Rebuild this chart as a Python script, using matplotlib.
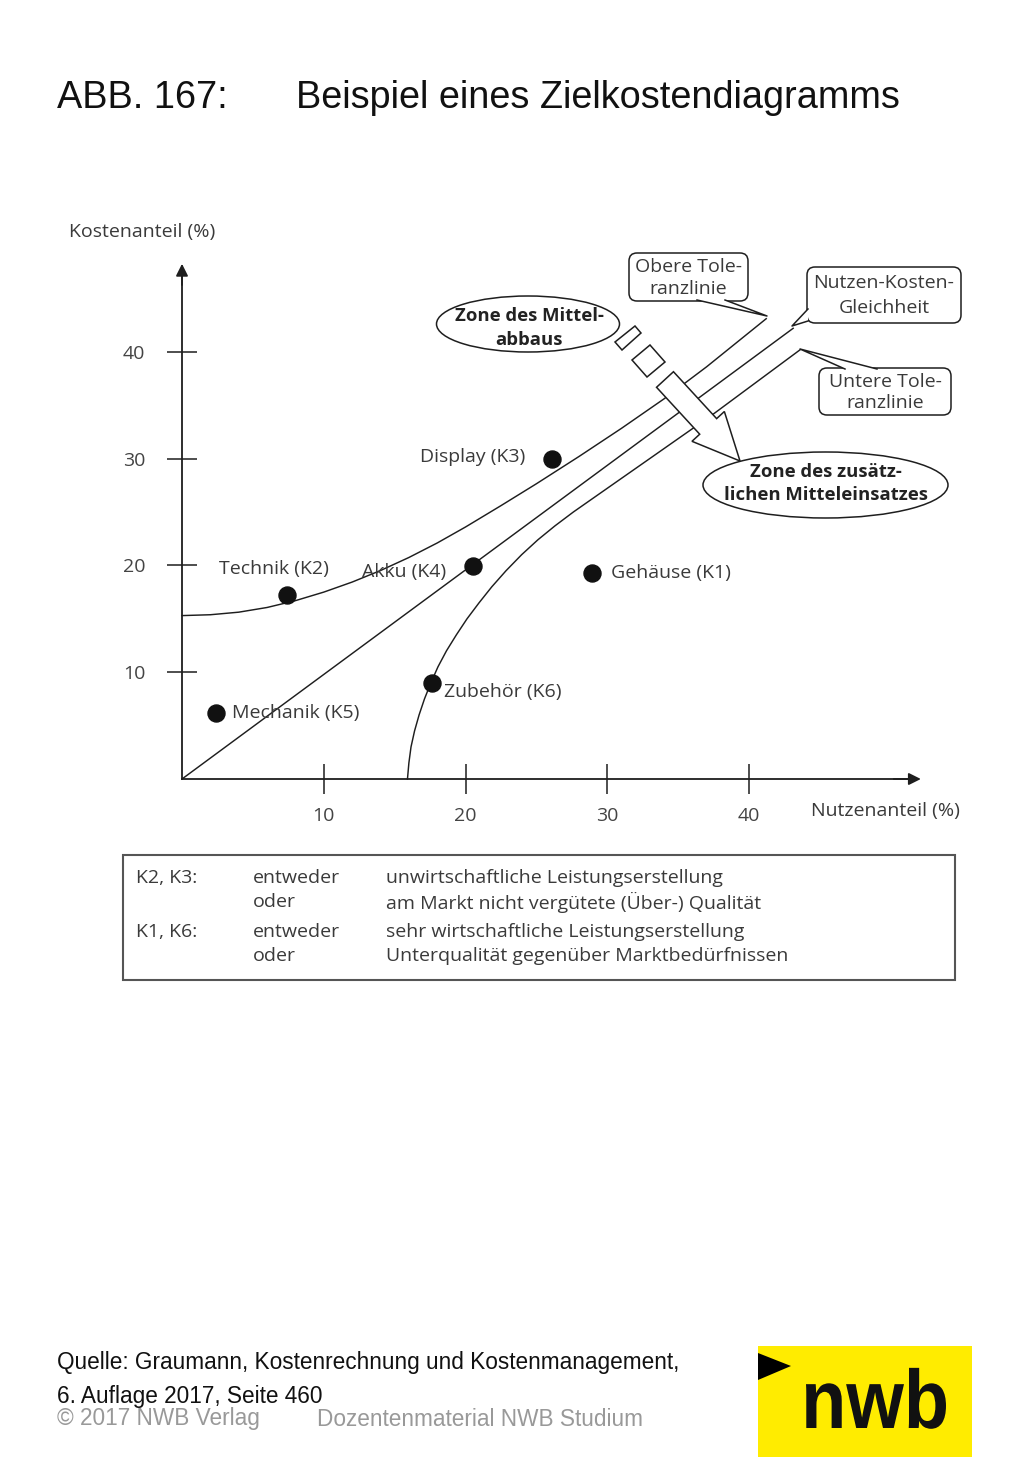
import matplotlib
matplotlib.use("Agg")
import matplotlib.pyplot as plt
from matplotlib.patches import Ellipse, FancyBboxPatch, Polygon, Rectangle, FancyArrow, PathPatch
from matplotlib.textpath import TextPath
from matplotlib.font_manager import FontProperties
from matplotlib.transforms import Affine2D

# --- data (Nutzenanteil %, Kostenanteil %) ---
comp_names = ["Gehäuse (K1)", "Technik (K2)", "Display (K3)", "Akku (K4)", "Mechanik (K5)", "Zubehör (K6)"]
nutzen = [28.9, 7.4, 26.1, 20.5, 2.4, 17.6]
kosten = [19.3, 17.2, 30.0, 19.9, 6.2, 9.0]
# label offsets in pixels (dx, dy) and alignment
label_off = [(19, 0), (-68, 26), (-27, 2), (-27, -6), (16, 0), (12, -9)]
label_ha = ["left", "left", "right", "right", "left", "left"]

# Nutzen-Kosten-Gleichheit
nk_x = [0, 43.1]
nk_y = [0, 42.2]
# obere Toleranzlinie
upper_x = [0, 2, 4, 6, 8, 10, 12, 14, 16, 18, 20, 22.5, 25, 28, 31, 34, 37, 41.2]
upper_y = [15.3, 15.38, 15.62, 16.06, 16.7, 17.5, 18.44, 19.52, 20.74, 22.1, 23.6, 25.6, 27.65, 30.2, 32.84, 35.6, 38.6, 43.1]
# untere Toleranzlinie
lower_x = [15.9, 16.0, 16.15, 16.4, 16.72, 17.1, 17.55, 18.05, 18.65, 19.35, 20.1, 20.95, 21.85, 22.85,
           23.95, 25.1, 26.3, 27.6, 29.0, 33.2, 37.5, 43.6]
lower_y = [0, 1.5, 3.0, 4.5, 6.0, 7.5, 9.0, 10.5, 12.0, 13.5, 15.0, 16.5, 18.0, 19.5,
           21.0, 22.4, 23.7, 25.0, 26.3, 30.2, 34.2, 40.2]

x_ticks = [10, 20, 30, 40]
y_ticks = [10, 20, 30, 40]

legend_keys = ["K2, K3:", "K1, K6:"]
legend_mid = ["entweder", "oder"]
legend_text = [["unwirtschaftliche Leistungserstellung", "am Markt nicht vergütete (Über-) Qualität"],
               ["sehr wirtschaftliche Leistungserstellung", "Unterqualität gegenüber Marktbedürfnissen"]]

FONT = ["Open Sans", "DejaVu Sans"]
TXT = "#3a3a3a"
LN = "#1e1e1e"
FS = 14

W, H = 1024, 1479
fig = plt.figure(figsize=(W / 100, H / 100), dpi=100)

# pixel mapping of the chart
X0, XS = 182, 14.18
Y0, YS = 779, 10.68
L, R, T, B = 100, 1000, 215, 845
ax = fig.add_axes([L / W, 1 - B / H, (R - L) / W, (B - T) / H])
ax.set_xlim((L - X0) / XS, (R - X0) / XS)
ax.set_ylim((Y0 - B) / YS, (Y0 - T) / YS)
ax.patch.set_alpha(0)
for s in ["top", "right"]:
    ax.spines[s].set_visible(False)
ax.spines["left"].set_position(("data", 0))
ax.spines["bottom"].set_position(("data", 0))
ax.spines["left"].set_bounds(0, 47.5)
ax.spines["bottom"].set_bounds(0, 51.5)
for s in ["left", "bottom"]:
    ax.spines[s].set_linewidth(1.3)
    ax.spines[s].set_color(LN)
ax.annotate("", xy=(0, 48.5), xytext=(0, 46), arrowprops=dict(arrowstyle="-|>", color=LN, lw=1.3, mutation_scale=18))
ax.annotate("", xy=(52.3, 0), xytext=(50, 0), arrowprops=dict(arrowstyle="-|>", color=LN, lw=1.3, mutation_scale=18))

ax.set_xticks(x_ticks)
ax.set_yticks(y_ticks)
ax.tick_params(direction="inout", length=21, width=1.1, color=LN, labelsize=FS, labelcolor="#444")
ax.tick_params(axis="y", pad=16)
ax.tick_params(axis="x", pad=10)
for lab in ax.get_xticklabels() + ax.get_yticklabels():
    lab.set_family(FONT)

ax.plot(nk_x, nk_y, color=LN, lw=1.05)
ax.plot(upper_x, upper_y, color=LN, lw=1.05)
ax.plot(lower_x, lower_y, color=LN, lw=1.05)
ax.scatter(nutzen, kosten, s=150, color="#111", zorder=5)
for name, x, y, off, ha in zip(comp_names, nutzen, kosten, label_off, label_ha):
    ax.annotate(name, (x, y), xytext=off, textcoords="offset pixels", ha=ha, va="center",
                fontsize=FS, color=TXT, family=FONT)

# --- overlay in pixel coordinates for page elements and callouts ---
ov = fig.add_axes([0, 0, 1, 1])
ov.set_xlim(0, W)
ov.set_ylim(H, 0)
ov.axis("off")
ov.patch.set_alpha(0)

ov.text(57, 98, "ABB. 167:", fontsize=27.3, va="center", family="Liberation Sans", color="#111")
ov.text(296, 98, "Beispiel eines Zielkostendiagramms", fontsize=27.3, va="center", family="Liberation Sans", color="#111")

ov.text(69, 232, "Kostenanteil (%)", fontsize=FS, va="center", family=FONT, color=TXT)
ov.text(811, 811, "Nutzenanteil (%)", fontsize=FS, va="center", family=FONT, color=TXT)

# big hollow arrow with the dashed tail
ov.add_patch(Polygon([(615, 342), (635, 326), (641, 333), (622, 350)], closed=True, fc="white", ec=LN, lw=1.1))
ov.add_patch(Polygon([(632, 360), (650, 345), (665, 362), (647, 377)], closed=True, fc="white", ec=LN, lw=1.1))
ov.add_patch(FancyArrow(665, 379.5, 75, 81.5, width=23, head_width=44, head_length=47,
                        length_includes_head=True, fc="white", ec=LN, lw=1.1))

# ellipses
BOLD = dict(fontsize=13.3, weight="bold", ha="center", va="center", family=FONT, color="#222")
ov.add_patch(Ellipse((528, 324), 183, 56, fc="white", ec=LN, lw=1.1))
ov.text(529, 316, "Zone des Mittel-", **BOLD)
ov.text(529, 340, "abbaus", **BOLD)
ov.add_patch(Ellipse((825.5, 485), 245, 66, fc="white", ec=LN, lw=1.1))
ov.text(826, 472, "Zone des zusätz-", **BOLD)
ov.text(826, 495, "lichen Mitteleinsatzes", **BOLD)


def callout(x0, y0, x1, y1, lines, tail):
    ov.add_patch(FancyBboxPatch((x0, y0), x1 - x0, y1 - y0, boxstyle="round,pad=0,rounding_size=8",
                                fc="white", ec=LN, lw=1.1))
    ov.add_patch(Polygon(tail, closed=True, fc="white", ec="none", zorder=3))
    ov.plot([p[0] for p in tail], [p[1] for p in tail], color=LN, lw=1.1, zorder=4)
    cx = (x0 + x1) / 2
    ov.text(cx, y0 + (y1 - y0) * 0.29, lines[0], fontsize=FS, ha="center", va="center", family=FONT, color=TXT)
    ov.text(cx, y0 + (y1 - y0) * 0.74, lines[1], fontsize=FS, ha="center", va="center", family=FONT, color=TXT)


callout(629, 253, 748, 301, ["Obere Tole-", "ranzlinie"], [(697, 300), (767, 316), (725, 300)])
callout(807, 267, 961, 323, ["Nutzen-Kosten-", "Gleichheit"], [(808, 309), (792, 326), (808, 321)])
callout(819, 368, 951, 415, ["Untere Tole-", "ranzlinie"], [(845, 369), (800, 349), (877, 369)])

# legend box
ov.add_patch(Rectangle((123, 855), 832, 125, fc="none", ec="#555", lw=1.5))
row_y = [878, 902, 932, 956]
for i, key in enumerate(legend_keys):
    ov.text(136, row_y[2 * i], key, fontsize=FS, va="center", family=FONT, color=TXT)
    for j in range(2):
        ov.text(253, row_y[2 * i + j], legend_mid[j], fontsize=FS, va="center", family=FONT, color=TXT)
        ov.text(386, row_y[2 * i + j], legend_text[i][j], fontsize=FS, va="center", family=FONT, color=TXT)

# footer
FOOT = "Liberation Sans"
ov.text(57, 1363, "Quelle: Graumann, Kostenrechnung und Kostenmanagement,", fontsize=16.3, va="center", family=FOOT, color="#111")
ov.text(57, 1396, "6. Auflage 2017, Seite 460", fontsize=16.3, va="center", family=FOOT, color="#111")
ov.text(57, 1419, "© 2017 NWB Verlag", fontsize=16.3, va="center", family=FOOT, color="#999")
ov.text(317, 1419, "Dozentenmaterial NWB Studium", fontsize=16.3, va="center", family=FOOT, color="#999")

# logo
ov.add_patch(Rectangle((758, 1346), 214, 111, fc="#FFEC00", ec="none"))
ov.add_patch(Polygon([(758, 1353), (791, 1366), (758, 1380)], closed=True, fc="black", ec="none"))
logo = TextPath((0, 0), "nwb", size=83, prop=FontProperties(family="Liberation Sans", weight="bold"))
ext = logo.get_extents()
sx = 140 / ext.width
ov.add_patch(PathPatch(logo, fc="#111", ec="none",
                       transform=Affine2D().translate(-ext.x0, 0).scale(sx, -1).translate(806, 1428) + ov.transData))

fig.savefig("out.png", dpi=100)
